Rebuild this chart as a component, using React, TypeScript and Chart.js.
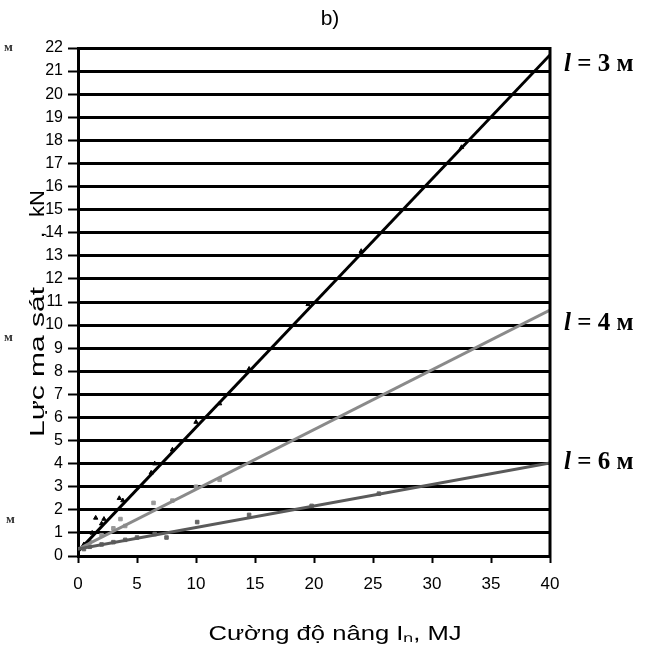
import React, { useEffect, useRef } from "react";
import { Chart, registerables } from "chart.js";

Chart.register(...registerables);

// Fitted lines (x = 0 and x = 40 endpoints)
const fitX = [0, 40];
const fit3 = [0.2, 21.7];
const fit4 = [0.3, 10.65];
const fit6 = [0.3, 4.03];

// Measured points
const pts3X = [0.5, 1.2, 1.5, 2.0, 2.2, 3.5, 3.8, 6.2, 6.5, 8.0, 10.0, 12.0, 14.5, 19.5, 24.0, 32.5];
const pts3Y = [0.5, 1.0, 1.65, 1.4, 1.6, 2.5, 2.4, 3.6, 4.0, 4.6, 5.8, 6.6, 8.1, 10.9, 13.2, 17.7];

const pts4X = [1.0, 2.0, 3.0, 3.6, 4.0, 6.4, 8.0, 10.0, 12.0];
const pts4Y = [0.6, 0.9, 1.2, 1.6, 1.3, 2.3, 2.4, 3.0, 3.3];

const pts6X = [0.5, 1.0, 2.0, 3.0, 4.0, 5.0, 6.5, 7.5, 10.1, 14.5, 19.8, 25.5];
const pts6Y = [0.3, 0.4, 0.5, 0.6, 0.7, 0.8, 0.95, 0.8, 1.47, 1.78, 2.17, 2.7];

const seriesNames = ["3 м", "4 м", "6 м"];
const xTitle = "Cường độ nâng Iₙ, MJ";
const yTitleMain = "Lực ma sát";
const yTitleComma = ",";
const yTitleUnit = "kN";
const panelTitle = "b)";

const xy = (xs: number[], ys: number[]) => xs.map((x, i) => ({ x, y: ys[i] }));

const SANS = "'Liberation Sans', Arial, sans-serif";
const SERIF = "'Liberation Serif', 'Times New Roman', serif";

function stretchedText(ctx: any, text: string, x: number, y: number, rot: number, sx: number, align: string) {
  ctx.save();
  ctx.translate(x, y);
  ctx.rotate(rot);
  ctx.scale(sx, 1);
  ctx.textAlign = align;
  ctx.fillText(text, 0, 0);
  ctx.restore();
}

const annotPlugin = {
  id: "annot",
  afterDraw(chart: any) {
    const { ctx, chartArea, scales } = chart;
    ctx.save();
    // right border
    ctx.strokeStyle = "#000";
    ctx.lineWidth = 3;
    ctx.beginPath();
    ctx.moveTo(chartArea.right, chartArea.top - 1);
    ctx.lineTo(chartArea.right, chartArea.bottom + 1);
    ctx.stroke();
    ctx.fillStyle = "#000";
    // panel title
    ctx.font = `21px ${SANS}`;
    ctx.textAlign = "center";
    ctx.textBaseline = "middle";
    ctx.fillText(panelTitle, 330, 19);
    // x axis title
    ctx.textBaseline = "alphabetic";
    ctx.font = `21px ${SANS}`;
    stretchedText(ctx, xTitle, 335, 640, 0, 1.22, "center");
    // y axis title (rotated)
    ctx.font = `20px ${SANS}`;
    stretchedText(ctx, yTitleMain, 44, 437, -Math.PI / 2, 1.5, "left");
    stretchedText(ctx, yTitleComma, 44, 238, -Math.PI / 2, 1.1, "left");
    stretchedText(ctx, yTitleUnit, 44, 217, -Math.PI / 2, 1.1, "left");
    // series labels at right
    const ys = [fit3[1], fit4[1], fit6[1]];
    const yOff = [10, 13, 0];
    seriesNames.forEach((name, i) => {
      const py = scales.y.getPixelForValue(ys[i]) + yOff[i];
      const x0 = chartArea.right + 14;
      ctx.textAlign = "left";
      ctx.textBaseline = "middle";
      ctx.font = `italic bold 25px ${SERIF}`;
      ctx.fillText("l", x0, py);
      const w = ctx.measureText("l").width;
      ctx.font = `bold 25px ${SERIF}`;
      ctx.fillText(" = " + name, x0 + w, py);
    });
    // stray marks at left edge
    ctx.font = `bold 13px ${SERIF}`;
    ctx.fillStyle = "#333";
    ctx.textAlign = "left";
    ctx.fillText("м", 4, 48);
    ctx.fillText("м", 4, 338);
    ctx.fillText("м", 6, 520);
    ctx.restore();
  },
};

export default function App() {
  const ref = useRef<HTMLCanvasElement>(null);
  useEffect(() => {
    if (!ref.current) return;
    const chart = new Chart(ref.current, {
      type: "scatter",
      data: {
        datasets: [
          { label: "fit l=6", data: xy(fitX, fit6), showLine: true, borderColor: "#5a5a5a", borderWidth: 3, pointRadius: 0 },
          { label: "fit l=4", data: xy(fitX, fit4), showLine: true, borderColor: "#8a8a8a", borderWidth: 3, pointRadius: 0 },
          { label: "fit l=3", data: xy(fitX, fit3), showLine: true, borderColor: "#000", borderWidth: 3, pointRadius: 0 },
          { label: "pts l=6", data: xy(pts6X, pts6Y), pointStyle: "rect", pointRadius: 2.5, backgroundColor: "#666", borderColor: "#666" },
          { label: "pts l=4", data: xy(pts4X, pts4Y), pointStyle: "rect", pointRadius: 2.5, backgroundColor: "#999", borderColor: "#999" },
          { label: "pts l=3", data: xy(pts3X, pts3Y), pointStyle: "triangle", pointRadius: 2.5, backgroundColor: "#000", borderColor: "#000" },
        ],
      },
      options: {
        responsive: false,
        animation: false,
        devicePixelRatio: 1,
        layout: { padding: { top: 48, right: 97, left: 0, bottom: 0 } },
        plugins: { legend: { display: false }, tooltip: { enabled: false }, title: { display: false } },
        scales: {
          x: {
            type: "linear",
            min: 0,
            max: 40,
            afterFit: (s: any) => {
              s.height = 89;
            },
            ticks: {
              stepSize: 5,
              color: "#000",
              padding: 11,
              font: { family: SANS, size: 17 },
            },
            grid: {
              drawOnChartArea: false,
              drawTicks: true,
              tickLength: 7,
              tickColor: "#000",
              tickWidth: 2,
            },
            border: { display: true, color: "#000", width: 2 },
            title: { display: false },
          },
          y: {
            type: "linear",
            min: 0,
            max: 22,
            afterFit: (s: any) => {
              s.width = 78;
            },
            ticks: {
              stepSize: 1,
              color: "#000",
              padding: 5,
              font: { family: SANS, size: 16 },
            },
            grid: {
              color: "#000",
              lineWidth: 3,
              tickLength: 10,
              tickColor: "#000",
              tickWidth: 2,
            },
            border: { display: true, color: "#000", width: 3 },
            title: { display: false },
          },
        },
      },
      plugins: [annotPlugin],
    });
    return () => chart.destroy();
  }, []);
  return (
    <div style={{ position: "absolute", left: 0, top: 0, width: 647, height: 645, background: "#fff" }}>
      <canvas ref={ref} width={647} height={645} />
    </div>
  );
}
